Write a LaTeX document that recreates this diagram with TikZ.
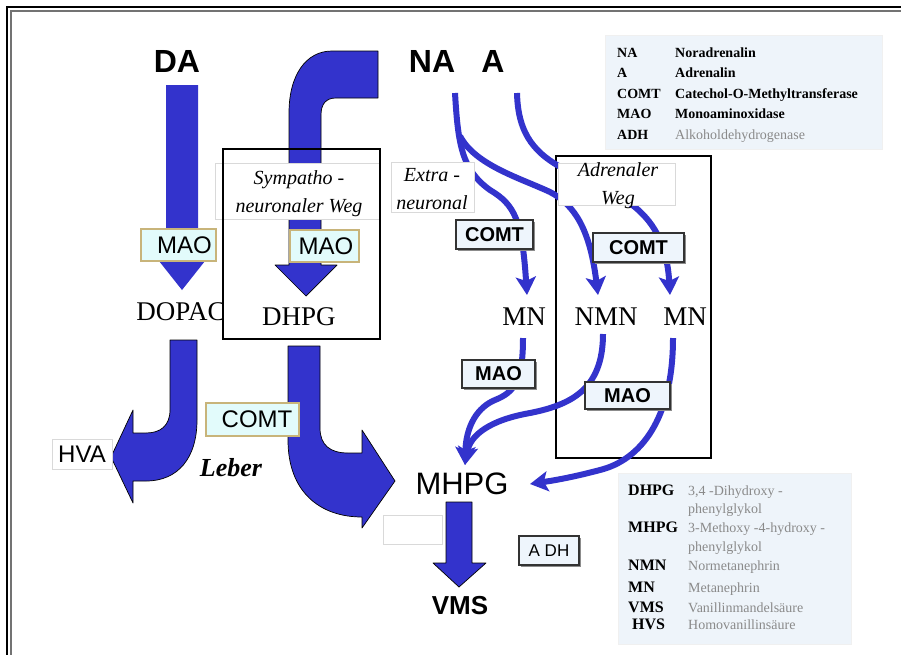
\documentclass[tikz,border=0pt]{standalone}
\usepackage{fontspec}
\setmainfont{Liberation Serif}
\setsansfont{Liberation Sans}
\usetikzlibrary{arrows.meta,shadows}
\definecolor{pblue}{HTML}{3333CC}
\definecolor{tanb}{HTML}{C8B47A}
\definecolor{cyanf}{HTML}{E2FBFB}
\definecolor{legf}{HTML}{EEF4FA}
\definecolor{boxf}{HTML}{EEF5FC}
\definecolor{descg}{HTML}{8A8A8A}
\begin{document}
\begin{tikzpicture}[x=1pt,y=-1pt,
  bigarrow/.style={fill=pblue, draw=black, line width=0.7pt, line join=round},
  flow/.style={draw=pblue, line width=6pt, -{Stealth[length=18pt,width=20pt,inset=4pt]}},
  tanbox/.style={draw=tanb, fill=cyanf, line width=1.3pt, inner sep=0pt,
    font=\sffamily\fontsize{24}{28}\selectfont},
  enzbox/.style={draw=black!80, fill=boxf, line width=1.4pt, inner sep=0pt,
    drop shadow={shadow xshift=1.6pt,shadow yshift=-1.6pt,fill=black!45,opacity=1},
    font=\sffamily\bfseries\fontsize{20}{24}\selectfont},
  labbox/.style={draw=black!15, fill=white, line width=0.8pt, inner sep=0pt},
  waybox/.style={draw=black, line width=1.5pt},
  italab/.style={align=center, inner sep=0pt, font=\rmfamily\itshape\fontsize{20}{28}\selectfont},
  bigsans/.style={inner sep=0pt, font=\sffamily\bfseries\fontsize{32}{36}\selectfont},
  serifbig/.style={inner sep=0pt, font=\rmfamily\fontsize{27}{30}\selectfont},
  legbox/.style={fill=legf, draw=black!6, line width=0.6pt, inner sep=0pt},
  legl/.style={anchor=base west, inner sep=0pt, font=\rmfamily\bfseries\fontsize{14}{16}\selectfont},
  legb/.style={anchor=base west, inner sep=0pt, font=\rmfamily\bfseries\fontsize{16}{18}\selectfont},
  legd/.style={anchor=base west, inner sep=0pt, font=\rmfamily\bfseries\fontsize{14}{16}\selectfont},
  legg/.style={anchor=base west, inner sep=0pt, text=descg, font=\rmfamily\fontsize{14}{16}\selectfont}
]
\useasboundingbox (0,0) rectangle (901,654);
\fill[white] (0,0) rectangle (901,654);
% frame
\draw[black, line width=2.2pt] (7,680) -- (7,7) -- (930,7);
\draw[black!55, line width=2pt] (11,680) -- (11,11) -- (930,11);

% legends
\node[legbox, minimum width=277pt, minimum height=114pt] (leg1) at (744,92) {};
\node[legbox, minimum width=233pt, minimum height=171pt] (leg2) at (734.5,558.5) {};
\node[legl] (l1a) at (617,57) {NA};
\node[legd] (l1b) at (675,57) {Noradrenalin};
\node[legl] (l2a) at (617,77.5) {A};
\node[legd] (l2b) at (675,77.5) {Adrenalin};
\node[legl] (l3a) at (617,98) {COMT};
\node[legd] (l3b) at (675,98) {Catechol-O-Methyltransferase};
\node[legl] (l4a) at (617,118.5) {MAO};
\node[legd] (l4b) at (675,118.5) {Monoaminoxidase};
\node[legl] (l5a) at (617,139) {ADH};
\node[legg] (l5b) at (675,139) {Alkoholdehydrogenase};

\node[legb] (m1a) at (628,495) {DHPG};
\node[legg] (m1b) at (688,495) {3,4 -Dihydroxy -};
\node[legg] (m1c) at (688,513) {phenylglykol};
\node[legb] (m2a) at (628,532) {MHPG};
\node[legg] (m2b) at (688,532) {3-Methoxy -4-hydroxy -};
\node[legg] (m2c) at (688,551) {phenylglykol};
\node[legb] (m3a) at (628,570) {NMN};
\node[legg] (m3b) at (688,570) {Normetanephrin};
\node[legb] (m4a) at (628,592) {MN};
\node[legg] (m4b) at (688,592) {Metanephrin};
\node[legb] (m5a) at (628,612) {VMS};
\node[legg] (m5b) at (688,612) {Vanillinmandelsäure};
\node[legb] (m6a) at (632,629) {HVS};
\node[legg] (m6b) at (688,629) {Homovanillinsäure};

% faint empty box
\node[labbox, minimum width=59pt, minimum height=29pt] (blank) at (412.5,529.5) {};

% big arrows
\fill[pblue] (166,85) -- (166,261) -- (159,261) -- (182,290) -- (205,261) -- (198,261) -- (198,85) -- cycle;
\draw[bigarrow] (378,51) -- (332,51) .. controls (306,51) and (289,75) .. (289,113) -- (289,265) -- (275,265) -- (306,296) -- (337,265) -- (321,265) -- (321,115) .. controls (321,104) and (326,98) .. (336,98) -- (378,98) -- cycle;
\draw[bigarrow] (170,340) -- (170,410) .. controls (170,426) and (160,433) .. (146,433) -- (133,433) -- (133,410) -- (111,457) -- (133,503) -- (133,481) -- (146,481) .. controls (178,481) and (197,458) .. (197,420) -- (197,340) -- cycle;
\draw[bigarrow] (288,346) -- (288,440) .. controls (288,492) and (320,517) .. (362,517) -- (362,528) -- (395,481) -- (362,430) -- (362,453) -- (348,453) .. controls (330,453) and (320,445) .. (320,428) -- (320,346) -- cycle;
\draw[bigarrow] (446,502) -- (446,563) -- (433,563) -- (459,587) -- (486,563) -- (472,563) -- (472,502) -- cycle;

% sympatho label and way boxes
\node[labbox, minimum width=164pt, minimum height=56pt] (symlab) at (297,191) {};
\node[italab] (symtxt) at (299,194) {Sympatho -\\neuronaler Weg};
\draw[waybox] (223,149) rectangle (380,339);
\draw[waybox] (556,156) rectangle (711,458);

% flow connectors
\coordinate (naS) at (455,93);
\coordinate (aS) at (517,93);
\coordinate (brNA) at (460,136);
\coordinate (mnxT) at (527,295);
\coordinate (nmnT) at (598,295);
\coordinate (mnaT) at (670,295);
\coordinate (mnxB) at (523,338);
\coordinate (nmnB) at (603,334);
\coordinate (mnaB) at (673,338);
\coordinate (mhpgT) at (465,465);
\coordinate (mhpgR) at (530,484);
\draw[flow] (naS) .. controls (458,145) and (462,170) .. (490,190) .. controls (515,205) and (522,220) .. (mnxT);
\draw[flow] (brNA) .. controls (475,165) and (520,178) .. (550,192) .. controls (575,205) and (590,230) .. (nmnT);
\draw[flow] (aS) .. controls (518,135) and (535,155) .. (570,172) .. controls (620,195) and (665,210) .. (mnaT);
\draw[flow] (mnxB) .. controls (523,380) and (515,392) .. (495,400) .. controls (478,407) and (466,425) .. (mhpgT);
\draw[flow] (nmnB) .. controls (603,390) and (570,405) .. (530,413) .. controls (490,420) and (470,435) .. (mhpgT);
\draw[flow] (mnaB) .. controls (673,420) and (640,460) .. (600,470) .. controls (570,478) and (550,481) .. (mhpgR);

% other labels
\node[labbox, minimum width=83pt, minimum height=50pt] (extlab) at (432.5,187) {};
\node[italab] (exttxt) at (432,189) {Extra -\\neuronal};
\node[labbox, minimum width=117pt, minimum height=42pt] (adrlab) at (616.5,184) {};
\node[italab] (adrtxt) at (618,186) {Adrenaler\\Weg};

% enzyme boxes
\node[tanbox, minimum width=75pt, minimum height=32pt] (mao1) at (178.5,245) {\hspace*{12pt}MAO};
\node[tanbox, minimum width=69pt, minimum height=32pt] (mao2) at (324.5,246) {\hspace*{3pt}MAO};
\node[tanbox, minimum width=93pt, minimum height=33pt] (comt1) at (252.5,419.5) {\hspace*{9pt}COMT};
\node[enzbox, minimum width=77pt, minimum height=29pt] (comt2) at (494.5,234.5) {COMT};
\node[enzbox, minimum width=91pt, minimum height=29pt] (comt3) at (638.5,247.5) {COMT};
\node[enzbox, minimum width=73pt, minimum height=28pt] (mao3) at (498.5,374) {MAO};
\node[enzbox, minimum width=85pt, minimum height=27pt] (mao4) at (627.5,395.5) {MAO};
\node[enzbox, minimum width=60pt, minimum height=29pt, font=\sffamily\fontsize{17}{20}\selectfont] (adh) at (549,550.5) {A DH};

% main texts
\node[bigsans] (DA) at (177,61) {DA};
\node[bigsans] (NA) at (432,61) {NA};
\node[bigsans] (A) at (493,61) {A};
\node[serifbig] (DOPAC) at (181,312) {DOPAC};
\node[serifbig] (DHPG) at (299,317) {DHPG};
\node[serifbig] (MN1) at (524,317) {MN};
\node[serifbig] (NMN) at (606,317) {NMN};
\node[serifbig] (MN2) at (685,317) {MN};
\node[inner sep=0pt, font=\sffamily\fontsize{31}{36}\selectfont] (MHPG) at (462,484) {MHPG};
\node[inner sep=0pt, font=\sffamily\bfseries\fontsize{26}{30}\selectfont] (VMS) at (460,606) {VMS};
\node[labbox, minimum width=60pt, minimum height=30pt, font=\sffamily\fontsize{24}{28}\selectfont] (HVA) at (82,454) {HVA};
\node[inner sep=0pt, font=\rmfamily\bfseries\itshape\fontsize{26}{30}\selectfont] (Leber) at (231,468) {Leber};
\end{tikzpicture}
\end{document}
